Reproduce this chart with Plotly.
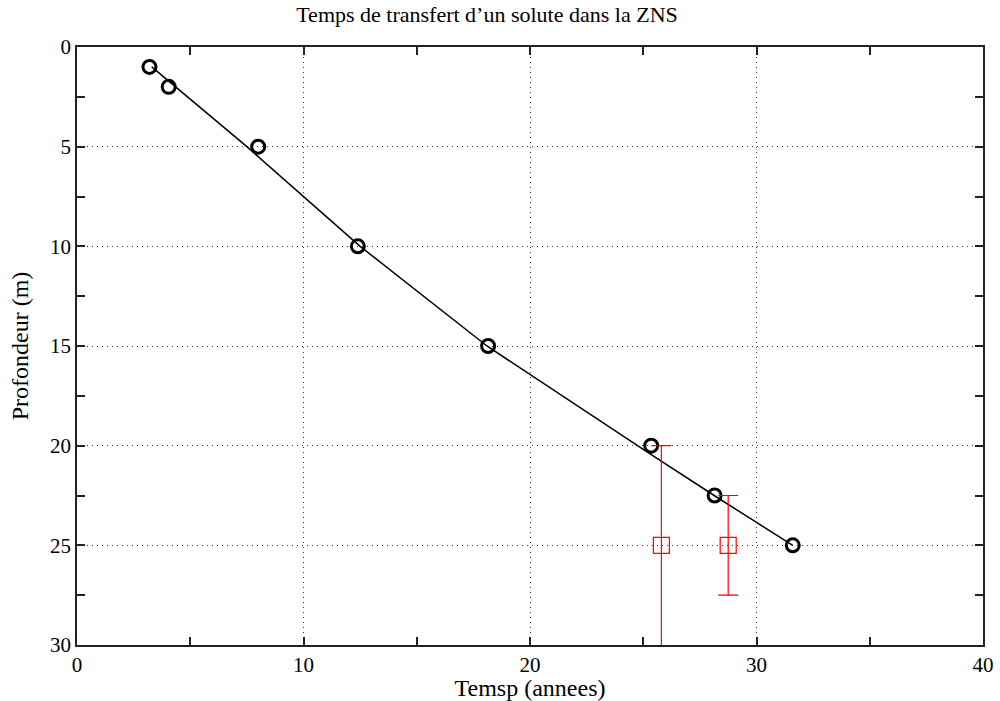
import plotly.graph_objects as go

# Observed points (time in years, depth in m)
obs_time = [3.2, 4.05, 8.0, 12.4, 18.15, 25.35, 28.15, 31.6]
obs_depth = [1, 2, 5, 10, 15, 20, 22.5, 25]

# Fitted curve
fit_time = [3.3, 7.5, 12.5, 18.1, 25.15, 28.2, 31.6]
fit_depth = [1, 5, 10, 15, 20.3, 22.55, 25]

# Estimates with error bars
est_time = [25.8, 28.75]
est_depth = [25, 25]
est_err_plus = [6, 2.5]
est_err_minus = [5, 2.5]

title_text = "Temps de transfert d\u2019un solute dans la ZNS"
x_label = "Temsp (annees)"
y_label = "Profondeur (m)"

serif = "Liberation Serif, Times New Roman, serif"

fig = go.Figure()
fig.add_trace(go.Scatter(x=fit_time, y=fit_depth, mode="lines",
                         line=dict(color="black", width=1.5), showlegend=False))
fig.add_trace(go.Scatter(x=obs_time, y=obs_depth, mode="markers",
                         marker=dict(symbol="circle-open", size=13, color="black",
                                     line=dict(width=3, color="black")),
                         showlegend=False))
fig.add_trace(go.Scatter(x=est_time, y=est_depth, mode="markers",
                         marker=dict(symbol="square-open", size=16, color="red",
                                     line=dict(width=1.2, color="red")),
                         error_y=dict(type="data", array=est_err_plus, arrayminus=est_err_minus,
                                      symmetric=False, color="red", thickness=1.2, width=10),
                         showlegend=False))

axis_common = dict(showline=True, linecolor="#222", linewidth=1.8, mirror="ticks",
                   ticks="inside", ticklen=8, tickcolor="#222", tickwidth=1.5,
                   showgrid=True, gridcolor="#333", griddash="1px,4px", gridwidth=1.3,
                   zeroline=False, automargin=False,
                   tickfont=dict(family=serif, size=21, color="black"))

fig.update_layout(
    width=1000, height=701,
    paper_bgcolor="white", plot_bgcolor="white",
    margin=dict(l=77, r=17, t=47, b=56),
    title=dict(text=title_text, x=0.487, xanchor="center", xref="container",
               y=1 - 14 / 701, yanchor="middle", yref="container", automargin=False,
               font=dict(family=serif, size=22, color="black")),
    xaxis=dict(range=[0, 40], tickvals=[0, 10, 20, 30, 40], **axis_common,
               minor=dict(tickvals=[5, 15, 25, 35], ticks="inside", ticklen=8, tickcolor="#222",
                          tickwidth=1.5, showgrid=False),
               title=dict(text=x_label, font=dict(family=serif, size=24, color="black"), standoff=6)),
    yaxis=dict(range=[30, 0], tickvals=[0, 5, 10, 15, 20, 25, 30], **axis_common,
               minor=dict(tickvals=[2.5, 7.5, 12.5, 17.5, 22.5, 27.5], ticks="inside", ticklen=8,
                          tickcolor="#222", tickwidth=1.5, showgrid=False),
               title=dict(text=y_label, font=dict(family=serif, size=24, color="black"), standoff=15)),
)

fig.write_html("out.html", config={"displayModeBar": False},
               post_script="document.body.style.margin='0';")
